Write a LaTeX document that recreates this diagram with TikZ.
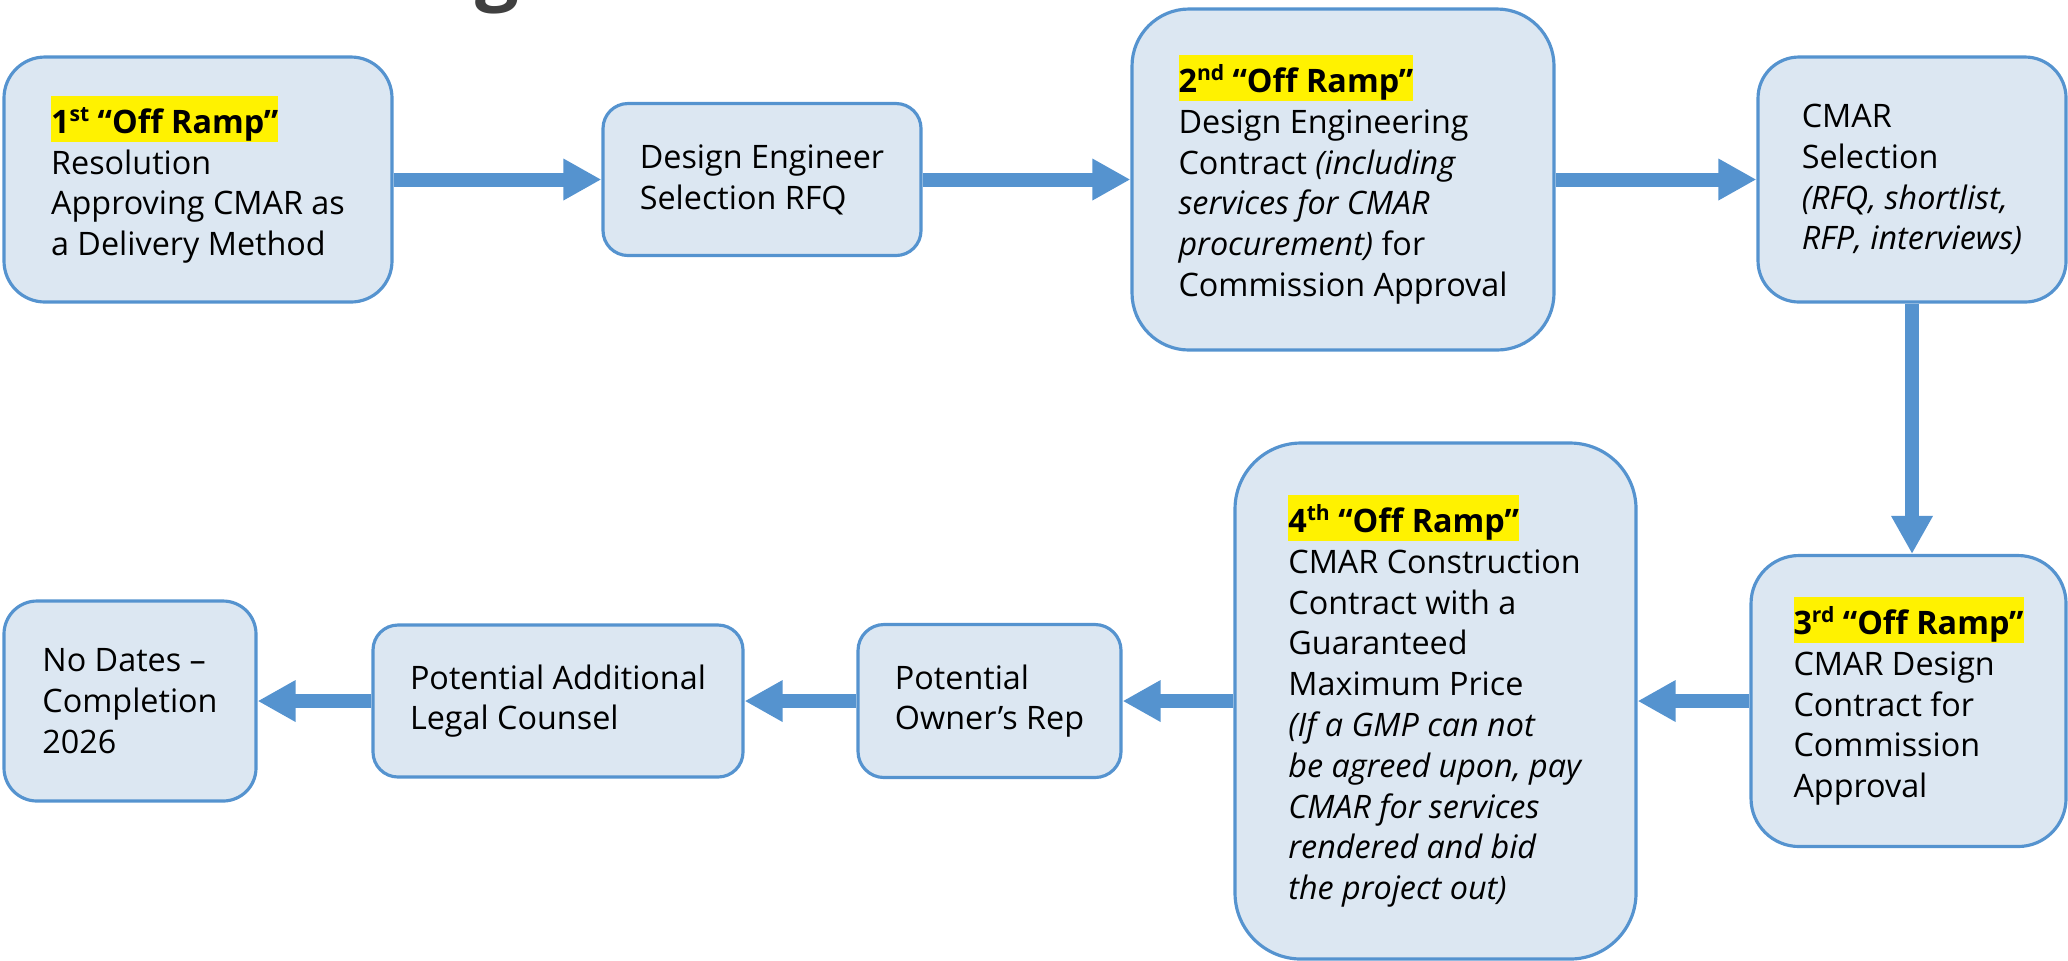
\documentclass[tikz,border=0pt]{standalone}
\usepackage{fontspec}
\setmainfont{Open Sans}
\usetikzlibrary{arrows.meta}
\definecolor{boxfill}{HTML}{DCE7F2}
\definecolor{boxline}{HTML}{5593CF}
\definecolor{titlegray}{HTML}{404040}
\newcommand{\offramp}[2]{{\setlength{\fboxsep}{0pt}\colorbox{yellow}{\rule[-2.3pt]{0pt}{13.1pt}\bfseries #1\raisebox{3.4pt}{\fontsize{6}{6}\selectfont #2} “Off Ramp”}}}
\tikzset{
  stepbox/.style={draw=boxline,fill=boxfill,line width=0.9pt,align=left,inner sep=0pt,
    font={\fontsize{9.2}{11.6}\selectfont}},
  flow/.style={draw=boxline,line width=0.14cm,-{Triangle[length=0.38cm,width=0.39cm]}}
}
\begin{document}
\begin{tikzpicture}
\useasboundingbox (0,0) rectangle (20.68,-9.6);
\begin{scope}
\clip (0,0) rectangle (20.68,-9.6);
\node (title) [anchor=base,text=titlegray,font={\fontsize{22}{26}\selectfont\bfseries}] at (4.97,0.05) {g};
\end{scope}
\node (ramp1) [stepbox,rounded corners=0.41cm,minimum width=3.88cm,minimum height=2.45cm] at (1.98,-1.795)
  {\offramp{1}{st}\\Resolution\\Approving CMAR as\\a Delivery Method};
\node (rfq) [stepbox,rounded corners=0.25cm,minimum width=3.18cm,minimum height=1.52cm] at (7.62,-1.795)
  {Design Engineer\\Selection RFQ};
\node (ramp2) [stepbox,rounded corners=0.57cm,minimum width=4.22cm,minimum height=3.41cm] at (13.43,-1.795)
  {\offramp{2}{nd}\\Design Engineering\\Contract \textit{(including}\\\textit{services for CMAR}\\\textit{procurement)} for\\Commission Approval};
\node (selection) [stepbox,rounded corners=0.41cm,minimum width=3.08cm,minimum height=2.45cm] at (19.12,-1.795)
  {CMAR\\Selection\\\textit{(RFQ, shortlist,}\\\textit{RFP, interviews)}};
\node (ramp3) [stepbox,rounded corners=0.48cm,minimum width=3.15cm,minimum height=2.91cm] at (19.085,-7.01)
  {\offramp{3}{rd}\\CMAR Design\\Contract for\\Commission\\Approval};
\node (ramp4) [stepbox,rounded corners=0.66cm,minimum width=4.01cm,minimum height=5.16cm] at (14.355,-7.01)
  {\offramp{4}{th}\\CMAR Construction\\Contract with a\\Guaranteed\\Maximum Price\\\textit{(If a GMP can not}\\\textit{be agreed upon, pay}\\\textit{CMAR for services}\\\textit{rendered and bid}\\\textit{the project out)}};
\node (ownerrep) [stepbox,rounded corners=0.26cm,minimum width=2.63cm,minimum height=1.53cm] at (9.895,-7.01)
  {Potential\\Owner’s Rep};
\node (counsel) [stepbox,rounded corners=0.25cm,minimum width=3.70cm,minimum height=1.52cm] at (5.58,-7.01)
  {Potential Additional\\Legal Counsel};
\node (completion) [stepbox,rounded corners=0.33cm,minimum width=2.52cm,minimum height=2.0cm] at (1.30,-7.01)
  {No Dates –\\Completion\\2026};
\foreach \a/\b in {ramp1/rfq,rfq/ramp2,ramp2/selection,ramp3/ramp4,ramp4/ownerrep,ownerrep/counsel,counsel/completion}
  \draw[flow] (\a) -- (\b);
\draw[flow] (selection) -- (selection |- ramp3.north);
\end{tikzpicture}
\end{document}
